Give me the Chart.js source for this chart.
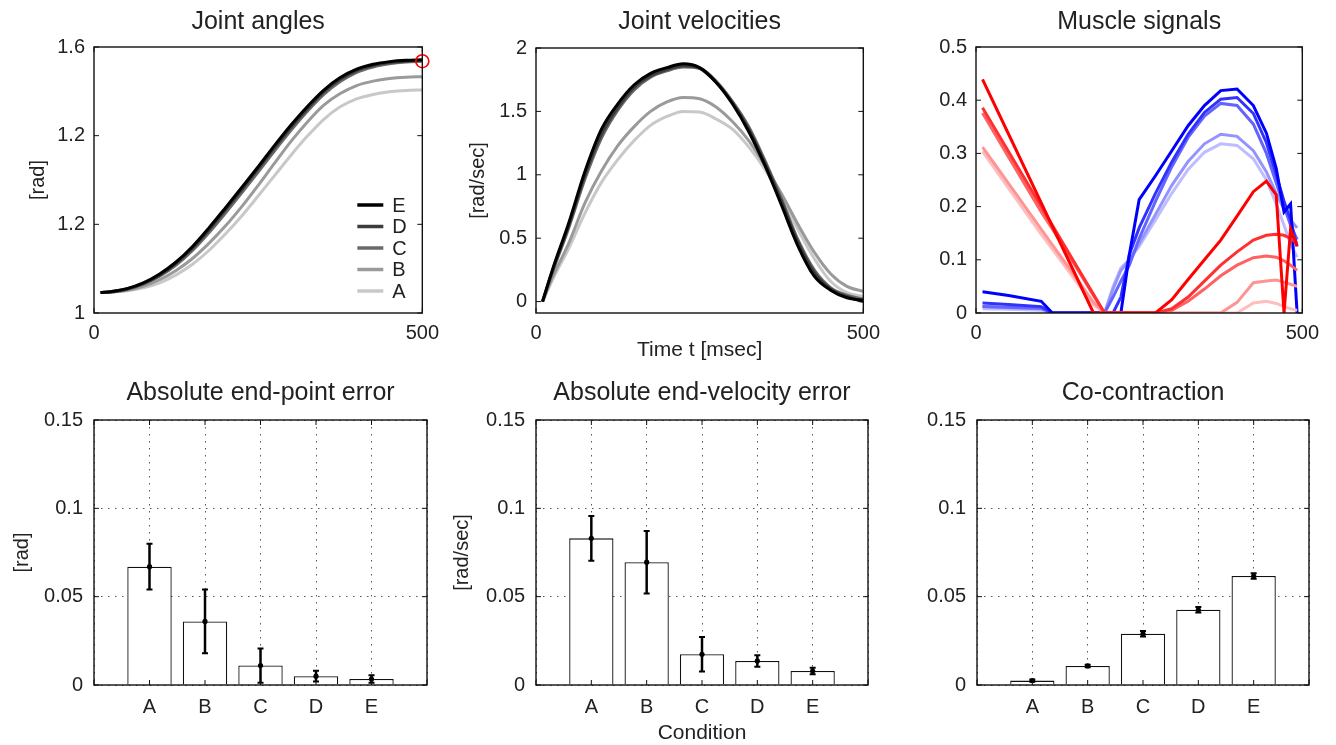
<!DOCTYPE html>
<html>
<head>
<meta charset="utf-8">
<script src="https://cdn.jsdelivr.net/npm/chart.js@4.4.1/dist/chart.umd.min.js"></script>
<style>
  html, body { margin: 0; padding: 0; background: #fff; overflow: hidden; }
  canvas { position: absolute; }
</style>
</head>
<body>
<canvas id="anglesChart"></canvas>
<canvas id="velocityChart"></canvas>
<canvas id="muscleChart"></canvas>
<canvas id="endPointChart"></canvas>
<canvas id="endVelocityChart"></canvas>
<canvas id="coContractionChart"></canvas>
<script>
// conditions A..E
const conditions = ['A', 'B', 'C', 'D', 'E'];

// joint angle / velocity traces, sampled in msec
const timeMs = [10, 25, 50, 75, 100, 125, 150, 175, 200, 225, 250, 275, 300, 325, 350, 375, 400, 425, 450, 475, 500];

const angleA = [1.046, 1.047, 1.050, 1.057, 1.068, 1.086, 1.110, 1.141, 1.178, 1.219, 1.264, 1.310, 1.356, 1.399, 1.437, 1.465, 1.483, 1.493, 1.499, 1.502, 1.503];
const angleB = [1.046, 1.047, 1.051, 1.060, 1.075, 1.096, 1.123, 1.157, 1.196, 1.240, 1.288, 1.338, 1.387, 1.431, 1.469, 1.495, 1.513, 1.523, 1.529, 1.532, 1.533];
const angleC = [1.046, 1.047, 1.053, 1.065, 1.083, 1.108, 1.141, 1.181, 1.225, 1.271, 1.318, 1.366, 1.412, 1.455, 1.493, 1.522, 1.543, 1.555, 1.562, 1.566, 1.568];
const angleD = [1.046, 1.048, 1.054, 1.066, 1.085, 1.112, 1.146, 1.187, 1.232, 1.278, 1.325, 1.373, 1.419, 1.461, 1.499, 1.527, 1.547, 1.558, 1.565, 1.568, 1.570];
const angleE = [1.046, 1.048, 1.055, 1.068, 1.088, 1.115, 1.150, 1.192, 1.237, 1.283, 1.330, 1.378, 1.424, 1.466, 1.503, 1.531, 1.550, 1.561, 1.567, 1.570, 1.571];
const targetTime = [500];
const targetAngle = [1.568];

const velA = [0.0, 0.17, 0.42, 0.70, 0.94, 1.12, 1.27, 1.39, 1.46, 1.50, 1.495, 1.44, 1.36, 1.22, 1.04, 0.82, 0.57, 0.34, 0.16, 0.07, 0.04];
const velB = [0.0, 0.19, 0.46, 0.78, 1.03, 1.23, 1.38, 1.50, 1.575, 1.61, 1.60, 1.535, 1.42, 1.27, 1.07, 0.85, 0.61, 0.39, 0.22, 0.12, 0.08];
const velC = [0.0, 0.23, 0.58, 0.97, 1.29, 1.51, 1.67, 1.77, 1.82, 1.85, 1.84, 1.74, 1.58, 1.38, 1.11, 0.81, 0.49, 0.25, 0.11, 0.05, 0.02];
const velD = [0.0, 0.24, 0.60, 1.00, 1.32, 1.53, 1.69, 1.78, 1.83, 1.86, 1.84, 1.73, 1.57, 1.36, 1.09, 0.79, 0.47, 0.23, 0.10, 0.04, 0.0];
const velE = [0.0, 0.25, 0.62, 1.03, 1.36, 1.56, 1.71, 1.80, 1.845, 1.875, 1.845, 1.73, 1.56, 1.34, 1.07, 0.76, 0.44, 0.20, 0.09, 0.03, 0.01];

// muscle signals (red = flexor, blue = extensor)
const muscleTime = [10, 50, 100, 117, 150, 180, 197, 210, 222, 235, 250, 275, 300, 325, 350, 375, 400, 425, 445, 460, 472, 482, 492];

const redA = [0.304, 0.234, 0.148, 0.12, 0.065, 0.015, 0, 0, 0, 0, 0, 0, 0, 0, 0, 0, 0, 0.019, 0.022, 0.018, 0.012, 0.008, 0.005];
const redB = [0.312, 0.243, 0.157, 0.128, 0.072, 0.02, 0, 0, 0, 0, 0, 0, 0, 0, 0, 0, 0.02, 0.057, 0.06, 0.062, 0.058, 0.054, 0.05];
const redC = [0.376, 0.293, 0.19, 0.158, 0.093, 0.033, 0, 0, 0, 0, 0, 0, 0.005, 0.022, 0.045, 0.07, 0.09, 0.104, 0.107, 0.105, 0.098, 0.09, 0.08];
const redD = [0.386, 0.303, 0.20, 0.165, 0.097, 0.035, 0, 0, 0, 0, 0, 0, 0.008, 0.03, 0.06, 0.09, 0.115, 0.137, 0.146, 0.148, 0.146, 0.14, 0.131];
const redE = [0.439, 0.336, 0.207, 0.163, 0.078, 0, 0, 0, 0, 0, 0, 0, 0.025, 0.063, 0.10, 0.137, 0.182, 0.228, 0.248, 0.222, 0, 0.158, 0.126];

const blueA = [0.008, 0.007, 0.005, 0, 0, 0, 0, 0.05, 0.085, 0.1, 0.125, 0.175, 0.225, 0.27, 0.302, 0.318, 0.315, 0.29, 0.25, 0.205, 0.165, 0.13, 0.105];
const blueB = [0.012, 0.01, 0.008, 0, 0, 0, 0, 0.045, 0.08, 0.1, 0.13, 0.185, 0.24, 0.285, 0.318, 0.336, 0.332, 0.305, 0.265, 0.225, 0.195, 0.175, 0.16];
const blueC = [0.012, 0.011, 0.009, 0, 0, 0, 0, 0.03, 0.06, 0.09, 0.14, 0.21, 0.275, 0.33, 0.37, 0.394, 0.39, 0.355, 0.30, 0.245, 0.2, 0.165, 0.138];
const blueD = [0.019, 0.016, 0.012, 0, 0, 0, 0, 0, 0.03, 0.11, 0.16, 0.225, 0.284, 0.336, 0.377, 0.402, 0.405, 0.375, 0.32, 0.26, 0.21, 0.175, 0.125];
const blueE = [0.040, 0.033, 0.022, 0, 0, 0, 0, 0, 0, 0.11, 0.213, 0.258, 0.305, 0.352, 0.39, 0.418, 0.421, 0.39, 0.338, 0.272, 0.19, 0.205, 0];

// bar panels: means and error bar half-lengths
const endPointError = [0.067, 0.036, 0.011, 0.005, 0.0034];
const endPointSd = [0.013, 0.018, 0.0097, 0.003, 0.0021];
const endVelocityError = [0.083, 0.0695, 0.0174, 0.0136, 0.0079];
const endVelocitySd = [0.0127, 0.0177, 0.0097, 0.0033, 0.0018];
const coContraction = [0.0025, 0.0108, 0.029, 0.0426, 0.0617];
const coContractionSd = [0.0006, 0.0007, 0.0015, 0.0015, 0.0015];

// tick values and their labels
const timeTicks = [0, 500];
const timeTickLabels = ['0', '500'];
const angleTicks = [1, 1.2, 1.4, 1.6];
const angleTickLabels = ['1', '1.2', '1.2', '1.6'];
const velTicks = [0, 0.5, 1, 1.5, 2];
const velTickLabels = ['0', '0.5', '1', '1.5', '2'];
const muscleTicks = [0, 0.1, 0.2, 0.3, 0.4, 0.5];
const muscleTickLabels = ['0', '0.1', '0.2', '0.3', '0.4', '0.5'];
const errorTicks = [0, 0.05, 0.1, 0.15];
const errorTickLabels = ['0', '0.05', '0.1', '0.15'];
const conditionTicks = [0, 1, 2, 3, 4, 5, 6];

// colours per condition A..E
const grayShades = ['#c8c8c8', '#9a9a9a', '#6a6a6a', '#3c3c3c', '#000000'];
const redShades = ['#ffbdbd', '#ff9494', '#ff6262', '#ff3030', '#ff0000'];
const blueShades = ['#bdbdff', '#9494ff', '#6464ff', '#3232ff', '#0000ff'];

Chart.defaults.font.family = "'Liberation Sans', Arial, sans-serif";
Chart.defaults.color = '#222';
Chart.defaults.animation = false;
Chart.defaults.plugins.legend.display = false;
Chart.defaults.plugins.tooltip.enabled = false;

function place(id, left, top, width, height) {
  const c = document.getElementById(id);
  c.style.left = left + 'px';
  c.style.top = top + 'px';
  c.width = width;
  c.height = height;
  return c;
}

function points(xs, ys) {
  return ys.map((y, i) => ({ x: xs[i], y: y }));
}

function titleOpts(text, top, bottom) {
  return { display: true, text: text, fullSize: false, font: { size: 25, weight: 'normal' }, padding: { top: top, bottom: bottom } };
}

function axis(o) {
  const cfg = {
    type: 'linear',
    min: o.min,
    max: o.max,
    offset: false,
    afterFit: s => { if (o.width) s.width = o.width; if (o.height) s.height = o.height; },
    afterBuildTicks: s => { s.ticks = o.ticks.map(v => ({ value: v })); },
    ticks: { padding: o.pad, font: { size: 20 }, autoSkip: false, maxRotation: 0, callback: o.labels },
    grid: o.dotted
      ? { display: true, drawTicks: false, offset: false, color: '#555', lineWidth: 1 }
      : { display: false, drawTicks: false },
    border: { display: false, dash: [1.5, 5.5] },
    title: { display: false }
  };
  if (o.title) {
    cfg.title = { display: true, text: o.title, font: { size: o.titleSize || 20 }, padding: o.titlePad };
  }
  return cfg;
}

// plot frame with inward tick marks
const frameBox = {
  id: 'frameBox',
  afterDraw(chart) {
    const { ctx, chartArea: a, scales } = chart;
    ctx.save();
    ctx.strokeStyle = '#111';
    ctx.lineWidth = 1.4;
    ctx.strokeRect(a.left, a.top, a.right - a.left, a.bottom - a.top);
    ctx.lineWidth = 1;
    ctx.beginPath();
    scales.y.ticks.forEach(t => {
      const y = scales.y.getPixelForValue(t.value);
      ctx.moveTo(a.left, y); ctx.lineTo(a.left + 5, y);
      ctx.moveTo(a.right, y); ctx.lineTo(a.right - 5, y);
    });
    scales.x.ticks.forEach(t => {
      const x = scales.x.getPixelForValue(t.value);
      ctx.moveTo(x, a.bottom); ctx.lineTo(x, a.bottom - 5);
      ctx.moveTo(x, a.top); ctx.lineTo(x, a.top + 5);
    });
    ctx.stroke();
    ctx.restore();
  }
};

// legend drawn inside the plot, bottom right
const lineKey = {
  id: 'lineKey',
  afterDatasetsDraw(chart, args, opts) {
    if (!opts.display) return;
    const { ctx, chartArea: a } = chart;
    const items = chart.data.datasets.filter(d => conditions.includes(d.label)).reverse();
    ctx.save();
    ctx.font = "20px 'Liberation Sans', Arial, sans-serif";
    ctx.textBaseline = 'middle';
    ctx.fillStyle = '#222';
    items.forEach((d, k) => {
      const y = a.bottom - 22 - (items.length - 1 - k) * 21.5;
      ctx.strokeStyle = d.borderColor;
      ctx.lineWidth = 3.5;
      ctx.beginPath();
      ctx.moveTo(a.right - 65, y);
      ctx.lineTo(a.right - 39, y);
      ctx.stroke();
      ctx.fillText(d.label, a.right - 30, y + 1);
    });
    ctx.restore();
  }
};

// error bars on top of the bars
const errorBars = {
  id: 'errorBars',
  afterDatasetsDraw(chart, args, opts) {
    if (!opts.errors) return;
    const { ctx } = chart;
    const yScale = chart.scales.y;
    const meta = chart.getDatasetMeta(0);
    const values = chart.data.datasets[0].data;
    ctx.save();
    ctx.strokeStyle = '#000';
    ctx.fillStyle = '#000';
    meta.data.forEach((bar, i) => {
      const v = values[i].y;
      const e = opts.errors[i];
      const yTop = yScale.getPixelForValue(v + e);
      const yBot = yScale.getPixelForValue(v - e);
      ctx.lineWidth = 2.5;
      ctx.beginPath();
      ctx.moveTo(bar.x, yTop); ctx.lineTo(bar.x, yBot);
      ctx.stroke();
      ctx.lineWidth = 2;
      ctx.beginPath();
      ctx.moveTo(bar.x - 3, yTop); ctx.lineTo(bar.x + 3, yTop);
      ctx.moveTo(bar.x - 3, yBot); ctx.lineTo(bar.x + 3, yBot);
      ctx.stroke();
      ctx.beginPath();
      ctx.arc(bar.x, yScale.getPixelForValue(v), 2.6, 0, Math.PI * 2);
      ctx.fill();
    });
    ctx.restore();
  }
};

function lineSets(xs, series, colors, orderBase, smooth) {
  return series.map((ys, i) => ({
    label: conditions[i],
    data: points(xs, ys),
    borderColor: colors[i],
    borderWidth: 3,
    pointRadius: 0,
    fill: false,
    tension: smooth ? 0.4 : 0,
    cubicInterpolationMode: smooth ? 'monotone' : 'default',
    order: orderBase + (series.length - 1 - i)
  }));
}

function topChart(id, left, width, titleText, datasets, yOpts, xTitle, extraPlugins, pluginOpts) {
  const topPad = titleText === 'Joint velocities' ? 11 : 10;
  new Chart(place(id, left, 0, width, 365), {
    type: 'line',
    data: { datasets: datasets },
    options: {
      responsive: false,
      layout: { padding: { right: 20 } },
      plugins: Object.assign({ title: titleOpts(titleText, 7, topPad) }, pluginOpts || {}),
      scales: {
        x: axis({
          min: 0, max: 500, height: 52, pad: 8, ticks: timeTicks,
          labels: (v, i) => timeTickLabels[i],
          title: xTitle, titleSize: 21, titlePad: { top: 0, bottom: 2.4 }
        }),
        y: yOpts
      }
    },
    plugins: [frameBox].concat(extraPlugins || [])
  });
}

// --- top row ---
const angleSets = lineSets(timeMs, [angleA, angleB, angleC, angleD, angleE], grayShades, 0, true);
angleSets.push({
  label: 'target',
  data: points(targetTime, targetAngle),
  showLine: false,
  pointRadius: 6.5,
  pointBorderColor: '#ff0000',
  pointBackgroundColor: 'rgba(0,0,0,0)',
  pointBorderWidth: 1.6,
  clip: false,
  order: -1
});
topChart('anglesChart', 24, 423, 'Joint angles', angleSets,
  axis({ min: 1, max: 1.6, width: 70, pad: 9, ticks: angleTicks, labels: (v, i) => angleTickLabels[i],
         title: '[rad]', titlePad: { top: 2, bottom: 0 } }),
  null, [lineKey], { lineKey: { display: true } });

topChart('velocityChart', 466, 422, 'Joint velocities',
  lineSets(timeMs, [velA, velB, velC, velD, velE], grayShades, 0, true),
  axis({ min: -0.09, max: 2, width: 70, pad: 9, ticks: velTicks, labels: (v, i) => velTickLabels[i],
         title: '[rad/sec]', titlePad: { top: 0, bottom: 0 } }),
  'Time t [msec]');

const muscleSets = lineSets(muscleTime, [redA, redB, redC, redD, redE], redShades, 0, false)
  .concat(lineSets(muscleTime, [blueA, blueB, blueC, blueD, blueE], blueShades, 5, false));
topChart('muscleChart', 906, 421, 'Muscle signals', muscleSets,
  axis({ min: 0, max: 0.5, width: 70, pad: 9, ticks: muscleTicks, labels: (v, i) => muscleTickLabels[i] }),
  null);

// --- bottom row ---
function barChart(id, left, width, yWidth, titleText, values, errors, yTitle, xTitle) {
  new Chart(place(id, left, 360, width, 386), {
    type: 'bar',
    data: {
      datasets: [{
        data: values.map((v, i) => ({ x: i + 1, y: v })),
        backgroundColor: '#ffffff',
        borderColor: '#111',
        borderWidth: 1.3,
        barPercentage: 1,
        categoryPercentage: 0.8
      }]
    },
    options: {
      responsive: false,
      layout: { padding: { right: 20 } },
      plugins: {
        title: titleOpts(titleText, 18, 12),
        errorBars: { errors: errors }
      },
      scales: {
        x: axis({
          min: 0, max: 6, height: 61, pad: 10, ticks: conditionTicks, dotted: true,
          labels: v => conditions[v - 1] || '',
          title: xTitle, titleSize: 21, titlePad: { top: 0, bottom: 0.4 }
        }),
        y: axis({
          min: 0, max: 0.15, width: yWidth, pad: 11, ticks: errorTicks, dotted: true,
          labels: (v, i) => errorTickLabels[i],
          title: yTitle, titlePad: { top: 0, bottom: 0 }
        })
      }
    },
    plugins: [frameBox, errorBars]
  });
}

barChart('endPointChart', 10, 437, 84, 'Absolute end-point error', endPointError, endPointSd, '[rad]', null);
barChart('endVelocityChart', 450, 438, 86, 'Absolute end-velocity error', endVelocityError, endVelocitySd, '[rad/sec]', 'Condition');
barChart('coContractionChart', 893, 436, 84, 'Co-contraction', coContraction, coContractionSd, null, null);
</script>
</body>
</html>
